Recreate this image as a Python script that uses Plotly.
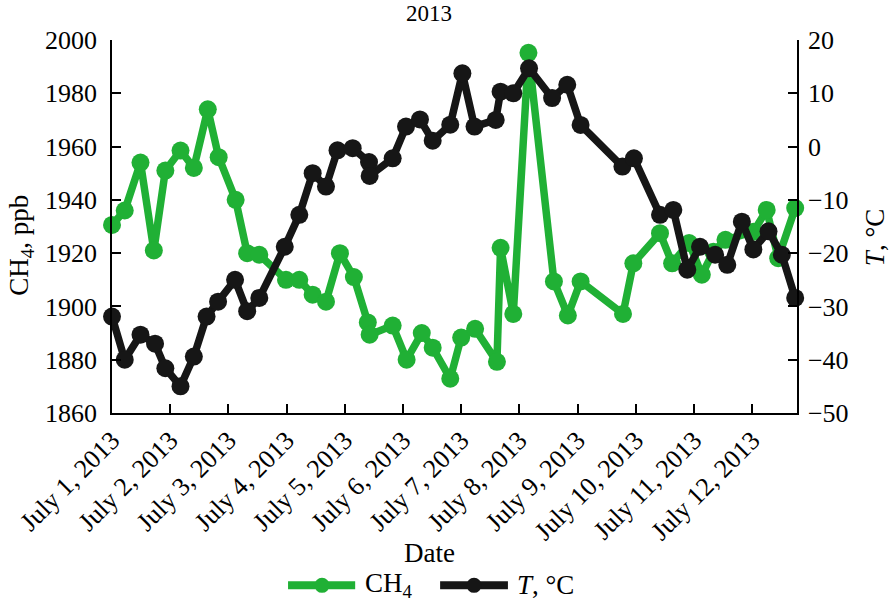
import plotly.graph_objects as go

# CH4 concentration, ppb
ch4_time = [
    "2013-07-01 00:00", "2013-07-01 05:15", "2013-07-01 11:45", "2013-07-01 17:15",
    "2013-07-01 22:00", "2013-07-02 04:15", "2013-07-02 09:45", "2013-07-02 15:30",
    "2013-07-02 20:00", "2013-07-03 03:00", "2013-07-03 07:45", "2013-07-03 12:45",
    "2013-07-03 23:45", "2013-07-04 05:15", "2013-07-04 10:45", "2013-07-04 16:15",
    "2013-07-04 22:00", "2013-07-05 03:45", "2013-07-05 09:30", "2013-07-05 10:15",
    "2013-07-05 19:45", "2013-07-06 01:30", "2013-07-06 07:45", "2013-07-06 12:15",
    "2013-07-06 19:30", "2013-07-07 00:00", "2013-07-07 05:45", "2013-07-07 14:45",
    "2013-07-07 16:15", "2013-07-07 21:30", "2013-07-08 03:45", "2013-07-08 14:15",
    "2013-07-08 20:00", "2013-07-09 01:15", "2013-07-09 18:45", "2013-07-09 23:00",
    "2013-07-10 10:00", "2013-07-10 15:00", "2013-07-10 22:00", "2013-07-11 03:15",
    "2013-07-11 08:00", "2013-07-11 13:00", "2013-07-12 00:30", "2013-07-12 06:00",
    "2013-07-12 10:45", "2013-07-12 17:45",
]
ch4_ppb = [
    1930.6, 1936.0, 1954.0, 1921.0,
    1951.0, 1958.5, 1952.0, 1974.0,
    1956.0, 1940.0, 1920.0, 1919.4,
    1910.0, 1910.0, 1904.4, 1901.8,
    1920.0, 1911.0, 1894.0, 1889.4,
    1892.8, 1880.0, 1890.0, 1884.5,
    1872.9, 1888.3, 1891.6, 1879.2,
    1922.0, 1897.2, 1995.2, 1909.4,
    1896.6, 1909.4, 1897.2, 1916.2,
    1927.5, 1916.2, 1923.8, 1911.9,
    1920.5, 1925.0, 1928.0, 1936.2,
    1918.1, 1936.9,
]

# Air temperature, °C
t_time = [
    "2013-07-01 00:00", "2013-07-01 05:15", "2013-07-01 11:45", "2013-07-01 17:45",
    "2013-07-01 22:00", "2013-07-02 04:15", "2013-07-02 09:45", "2013-07-02 15:00",
    "2013-07-02 19:45", "2013-07-03 02:45", "2013-07-03 07:45", "2013-07-03 12:45",
    "2013-07-03 23:15", "2013-07-04 05:15", "2013-07-04 10:45", "2013-07-04 16:15",
    "2013-07-04 21:00", "2013-07-05 03:15", "2013-07-05 10:00", "2013-07-05 10:15",
    "2013-07-05 19:45", "2013-07-06 01:15", "2013-07-06 07:00", "2013-07-06 12:15",
    "2013-07-06 19:30", "2013-07-07 00:30", "2013-07-07 05:30", "2013-07-07 14:15",
    "2013-07-07 16:15", "2013-07-07 21:30", "2013-07-08 04:00", "2013-07-08 13:30",
    "2013-07-08 19:45", "2013-07-09 01:15", "2013-07-09 18:30", "2013-07-09 23:15",
    "2013-07-10 10:00", "2013-07-10 15:30", "2013-07-10 21:15", "2013-07-11 02:30",
    "2013-07-11 08:45", "2013-07-11 13:45", "2013-07-11 19:45", "2013-07-12 00:30",
    "2013-07-12 06:45", "2013-07-12 12:15", "2013-07-12 17:45",
]
t_celsius = [
    -31.9, -40.0, -35.3, -37.0,
    -41.6, -45.0, -39.4, -31.9,
    -29.1, -25.0, -30.9, -28.4,
    -18.8, -12.8, -5.0, -7.5,
    -0.7, -0.3, -2.9, -5.5,
    -2.2, 3.75, 5.1, 1.1,
    4.1, 13.75, 3.75, 5.0,
    10.3, 10.0, 14.7, 9.1,
    11.6, 4.06, -3.75, -2.2,
    -12.8, -11.9, -23.1, -18.8,
    -20.3, -22.2, -14.1, -19.3,
    -15.9, -20.3, -28.4,
]

series_names = ["CH<sub>4</sub>", "<i>T</i>, °C"]

GREEN = "#20b035"
BLACK = "#161616"
FONT = "Liberation Serif"
TICK_SIZE = 26
TITLE_SIZE = 27

fig = go.Figure()
fig.add_trace(go.Scatter(
    x=ch4_time, y=ch4_ppb, name=series_names[0],
    mode="lines+markers", cliponaxis=False, showlegend=False,
    line=dict(color=GREEN, width=7.5),
    marker=dict(color=GREEN, size=18),
))
fig.add_trace(go.Scatter(
    x=t_time, y=t_celsius, name=series_names[1], yaxis="y2",
    mode="lines+markers", cliponaxis=False, showlegend=False,
    line=dict(color=BLACK, width=7.5),
    marker=dict(color=BLACK, size=18),
))

axis_common = dict(
    showgrid=False, zeroline=False, showline=True, linecolor="black", linewidth=1.5,
    ticks="inside", ticklen=9, tickwidth=1.5, tickcolor="black",
    tickfont=dict(family=FONT, size=TICK_SIZE, color="black"),
)

# Legend drawn as line + dot samples with labels under the plot
legend_y = -0.462
legend_items = [
    (0.257, 0.355, 0.3066, 0.366, GREEN, series_names[0]),
    (0.479, 0.578, 0.5285, 0.588, BLACK, series_names[1]),
]
shapes = []
annotations = []
for x0, x1, xdot, xtext, color, label in legend_items:
    shapes.append(dict(type="line", xref="paper", yref="paper",
                       x0=x0, x1=x1, y0=legend_y, y1=legend_y,
                       line=dict(color=color, width=8)))
    shapes.append(dict(type="circle", xref="paper", yref="paper",
                       xsizemode="pixel", ysizemode="pixel",
                       xanchor=xdot, yanchor=legend_y,
                       x0=-7.5, x1=7.5, y0=-7.5, y1=7.5,
                       fillcolor=color, line=dict(color=color, width=0)))
    annotations.append(dict(text=label, xref="paper", yref="paper",
                            x=xtext, y=legend_y, xanchor="left", yanchor="middle",
                            showarrow=False,
                            font=dict(family=FONT, size=TITLE_SIZE, color="black")))

# Axis titles
annotations += [
    dict(text="Date", xref="paper", yref="paper", x=0.464, y=-0.375,
         xanchor="center", yanchor="middle", showarrow=False,
         font=dict(family=FONT, size=TITLE_SIZE, color="black")),
    dict(text="CH<sub>4</sub>, ppb", xref="paper", yref="paper", x=-0.132, y=0.45,
         xanchor="center", yanchor="middle", textangle=-90, showarrow=False,
         font=dict(family=FONT, size=TITLE_SIZE, color="black")),
    dict(text="<i>T</i>, °C", xref="paper", yref="paper", x=1.114, y=0.469,
         xanchor="center", yanchor="middle", textangle=-90, showarrow=False,
         font=dict(family=FONT, size=TITLE_SIZE, color="black")),
]

fig.update_layout(
    width=892, height=607,
    margin=dict(l=112, r=95, t=40, b=194),
    paper_bgcolor="white", plot_bgcolor="white",
    font=dict(family=FONT, size=TICK_SIZE, color="black"),
    title=dict(text="2013", x=(429 / 892), xanchor="center", y=0.978, yanchor="middle",
               font=dict(family=FONT, size=23, color="black")),
    xaxis=dict(
        **axis_common,
        type="date",
        range=["2013-07-01 00:00", "2013-07-12 18:30"],
        dtick=86400000, tick0="2013-07-01",
        tickformat="%B %-d, %Y", tickangle=-45,
    ),
    yaxis=dict(
        **axis_common,
        range=[1860, 2000], dtick=20, ticklabelstandoff=8,
    ),
    yaxis2=dict(
        **axis_common,
        overlaying="y", side="right",
        range=[-50, 20], dtick=10, ticklabelstandoff=4,
    ),
    shapes=shapes,
    annotations=annotations,
    showlegend=False,
)

fig.write_html("out.html")
